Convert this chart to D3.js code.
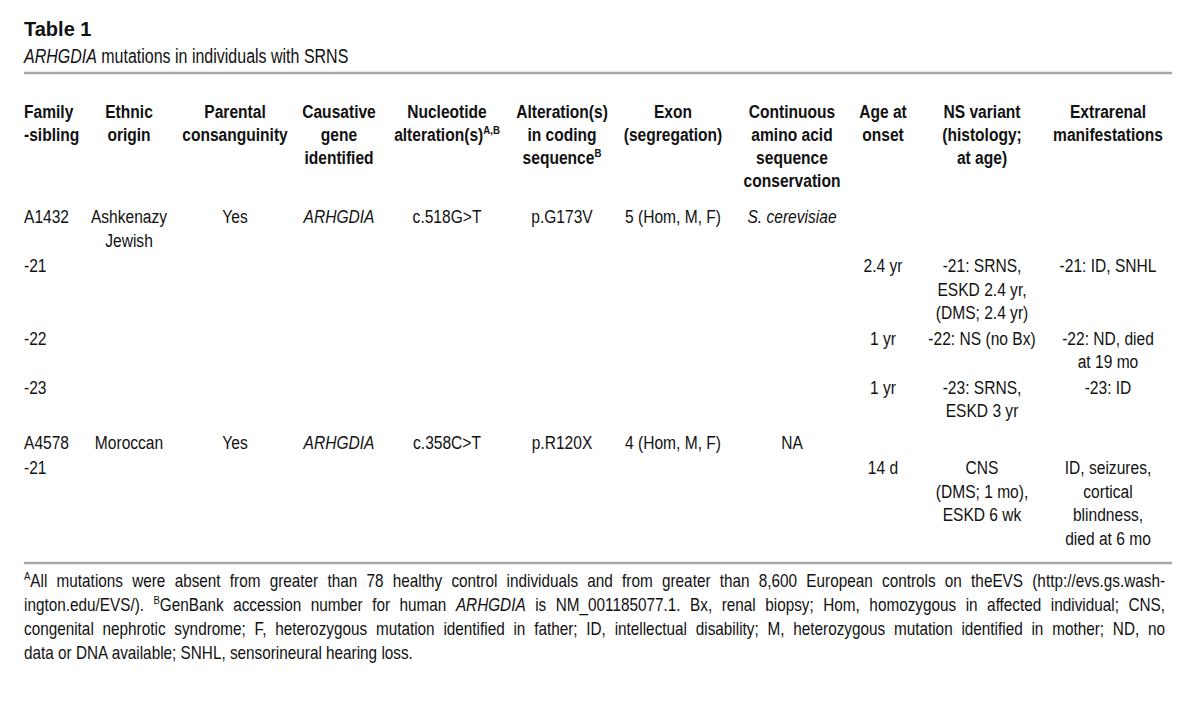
<!DOCTYPE html>
<html>
<head>
<meta charset="utf-8">
<script src="https://cdn.jsdelivr.net/npm/d3@7"></script>
<style>
  body { margin: 0; background: #fff; }
  svg text { fill: #111; }
</style>
</head>
<body>
<script>
// markup: *italic*, ^{sup}, "|" splits lines inside a cell
const tableTitle = "Table 1";
const tableSubtitle = "*ARHGDIA* mutations in individuals with SRNS";

const columnKeys = ["family", "ethnic", "parental", "gene", "nucleotide", "coding",
  "exon", "conservation", "age", "ns", "extrarenal"];
const headerLabels = [
  "Family|-sibling",
  "Ethnic|origin",
  "Parental|consanguinity",
  "Causative|gene|identified",
  "Nucleotide|alteration(s)^{A,B}",
  "Alteration(s)|in coding|sequence^{B}",
  "Exon|(segregation)",
  "Continuous|amino acid|sequence|conservation",
  "Age at|onset",
  "NS variant|(histology;|at age)",
  "Extrarenal|manifestations"
];

const familySibling = ["A1432", "-21", "-22", "-23", "A4578", "-21"];
const ethnicOrigin = ["Ashkenazy|Jewish", "", "", "", "Moroccan", ""];
const consanguinity = ["Yes", "", "", "", "Yes", ""];
const causativeGene = ["*ARHGDIA*", "", "", "", "*ARHGDIA*", ""];
const nucleotideAlt = ["c.518G>T", "", "", "", "c.358C>T", ""];
const codingAlt = ["p.G173V", "", "", "", "p.R120X", ""];
const exonSegregation = ["5 (Hom, M, F)", "", "", "", "4 (Hom, M, F)", ""];
const aaConservation = ["*S. cerevisiae*", "", "", "", "NA", ""];
const ageAtOnset = ["", "2.4 yr", "1 yr", "1 yr", "", "14 d"];
const nsVariant = ["", "-21: SRNS,|ESKD 2.4 yr,|(DMS; 2.4 yr)", "-22: NS (no Bx)",
  "-23: SRNS,|ESKD 3 yr", "", "CNS|(DMS; 1 mo),|ESKD 6 wk"];
const extrarenal = ["", "-21: ID, SNHL", "-22: ND, died|at 19 mo", "-23: ID", "",
  "ID, seizures,|cortical|blindness,|died at 6 mo"];

const footnoteLines = [
  "^{A}All mutations were absent from greater than 78 healthy control individuals and from greater than 8,600 European controls on theEVS (http://evs.gs.wash-",
  "ington.edu/EVS/). ^{B}GenBank accession number for human *ARHGDIA* is NM_001185077.1. Bx, renal biopsy; Hom, homozygous in affected individual; CNS,",
  "congenital nephrotic syndrome; F, heterozygous mutation identified in father; ID, intellectual disability; M, heterozygous mutation identified in mother; ND, no",
  "data or DNA available; SNHL, sensorineural hearing loss."
];

const columns = [familySibling, ethnicOrigin, consanguinity, causativeGene, nucleotideAlt,
  codingAlt, exonSegregation, aaConservation, ageAtOnset, nsVariant, extrarenal];

// ---- layout
const W = 1200, H = 711;
const left = 24, right = 1172;
const lineH = 23.5;

// is the narrow face installed? if not, squeeze the regular one
const ctx = document.createElement("canvas").getContext("2d");
ctx.font = "20px 'Liberation Sans Narrow', monospace";
const wNarrow = ctx.measureText("abcdefghij").width;
ctx.font = "20px monospace";
const hasNarrow = Math.abs(wNarrow - ctx.measureText("abcdefghij").width) > 0.5;
const NARROW = hasNarrow ? "'Liberation Sans Narrow', 'Arial Narrow', sans-serif" : "'Liberation Sans', Arial, sans-serif";
const SX = hasNarrow ? 1 : 0.82;

const colX = d3.scaleOrdinal()
  .domain(columnKeys)
  .range([left, 129, 235, 339, 447, 562, 673, 792, 883, 982, 1108]);

const svg = d3.select("body").append("svg")
  .attr("width", W)
  .attr("height", H);

function parseRuns(s) {
  return s.split(/(\*[^*]+\*|\^\{[^}]+\})/).filter(p => p.length).map(p => {
    if (p[0] === "*") return {t: p.slice(1, -1), italic: true};
    if (p[0] === "^") return {t: p.slice(2, -1), sup: true};
    return {t: p};
  });
}

// one line of text with runs, anchored at (x, y)
function addLine(g, str, x, y, opts) {
  const size = opts.size;
  const sx = opts.sx || SX;
  const t = g.append("text")
    .attr("transform", `translate(${x},${y}) scale(${sx},1)`)
    .attr("text-anchor", opts.anchor || "start")
    .style("font-family", opts.family || NARROW)
    .style("font-size", size + "px")
    .style("font-weight", opts.bold ? "bold" : "normal");
  let shift = 0;
  parseRuns(str).forEach(r => {
    const ts = t.append("tspan").text(r.t);
    if (r.italic) ts.style("font-style", "italic");
    if (r.sup) {
      ts.style("font-size", (size * 0.62) + "px").attr("dy", -size * 0.38);
      shift = size * 0.38;
    } else if (shift) {
      ts.attr("dy", shift);
      shift = 0;
    }
  });
  return t;
}

// title + subtitle
addLine(svg, tableTitle, left, 36, {size: 20, bold: true, family: "'Liberation Sans', Arial, sans-serif", sx: 1});
addLine(svg, tableSubtitle, left, 63, {size: 19.5});

// rules
svg.append("line").attr("x1", left).attr("x2", right).attr("y1", 73).attr("y2", 73)
  .attr("stroke", "#a8a8a8").attr("stroke-width", 2.5);

// header
const head = svg.append("g").attr("class", "header");
headerLabels.forEach((lab, i) => {
  const key = columnKeys[i];
  lab.split("|").forEach((ln, j) => {
    addLine(head, ln, colX(key), 118 + j * 23, {size: 19, bold: true, anchor: key === "family" ? "start" : "middle"});
  });
});

// body rows: y of each row from the line counts
const nRows = familySibling.length;
const rowY = [];
let y = 223;
for (let r = 0; r < nRows; r++) {
  if (r > 0 && /^A/.test(familySibling[r])) y += 6;
  rowY.push(y);
  const lines = d3.max(columns, c => c[r] ? c[r].split("|").length : 1);
  y += lines * lineH + 2;
}

const body = svg.append("g").attr("class", "body");
columns.forEach((col, i) => {
  const key = columnKeys[i];
  col.forEach((cell, r) => {
    if (!cell) return;
    cell.split("|").forEach((ln, j) => {
      addLine(body, ln, colX(key), rowY[r] + j * lineH, {size: 19, anchor: key === "family" ? "start" : "middle"});
    });
  });
});

svg.append("line").attr("x1", left).attr("x2", right).attr("y1", 563).attr("y2", 563)
  .attr("stroke", "#a8a8a8").attr("stroke-width", 2.5);

// footnotes, justified except the last line
const footSX = SX * 0.875 / 0.82 * (hasNarrow ? 0.82 : 1);
const foot = svg.append("g").attr("class", "foot");
footnoteLines.forEach((ln, i) => {
  const t = addLine(foot, ln, left, 587 + i * 24, {size: 17.5, sx: hasNarrow ? 1.07 : 0.875});
  if (i < footnoteLines.length - 1) {
    const fsx = hasNarrow ? 1.07 : 0.875;
    const natural = t.node().getBBox().width * fsx;
    const spaces = (ln.match(/ /g) || []).length;
    const target = 1165 - left;
    t.style("word-spacing", ((target - natural) / spaces / fsx) + "px");
  }
});
</script>
</body>
</html>
